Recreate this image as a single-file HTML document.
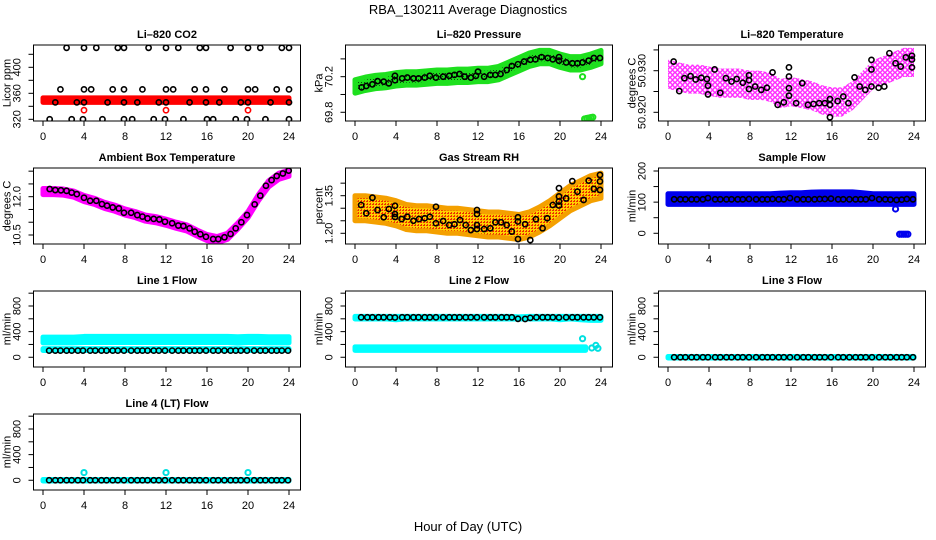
<!DOCTYPE html>
<html><head><meta charset="utf-8"><style>
html,body{margin:0;padding:0;background:#fff;}
svg{display:block;font-family:"Liberation Sans",sans-serif;}
</style></head><body>
<svg id="chart" width="936" height="540" viewBox="0 0 936 540" xmlns="http://www.w3.org/2000/svg">
<defs>
<pattern id="pGreen" width="3" height="3" patternUnits="userSpaceOnUse"><rect width="3" height="3" fill="#1ee01e"/><rect x="1" y="1" width="1" height="1" fill="#0a4a0a"/></pattern>
<pattern id="pPink" width="5" height="5" patternUnits="userSpaceOnUse"><circle cx="2.5" cy="2.5" r="1.8" fill="none" stroke="#ff00ff" stroke-width="1.2"/></pattern>
<pattern id="pOrange" width="3" height="3" patternUnits="userSpaceOnUse"><rect width="3" height="3" fill="#ffd000"/><rect x="0" y="0" width="2" height="1" fill="#ee3000"/><rect x="1" y="2" width="1" height="1" fill="#ee3000"/></pattern>
</defs>
<text x="468" y="14" text-anchor="middle" font-size="13">RBA_130211  Average Diagnostics</text>
<text x="468" y="531" text-anchor="middle" font-size="13">Hour of Day (UTC)</text>
<g id="panels"></g>
</svg>
<script>
// ---------- data ----------
const bandHours = [0,1,2,3,4,5,6,7,8,9,10,11,12,13,14,15,16,17,18,19,20,21,22,23,24];
const flowTimes = [0.6,1.2,1.7,2.3,2.8,3.4,3.9,4.6,5.1,5.7,6.2,6.8,7.3,7.9,8.6,9.2,9.7,10.2,10.8,11.3,11.9,12.6,13.2,13.7,14.3,14.8,15.3,15.9,16.6,17.1,17.7,18.3,18.8,19.3,19.9,20.6,21.2,21.7,22.3,22.8,23.3,23.9];

// CO2
const co2Times = [2.3,4.0,5.2,7.3,7.9,10.3,12.0,13.2,15.3,15.9,18.3,20.0,21.2,23.3,24.0,
 1.7,4.0,4.7,6.8,7.9,9.7,12.0,12.7,14.8,15.9,17.7,20.0,20.7,22.8,24.0,
 1.2,3.3,4.0,6.3,7.9,9.2,11.3,12.0,14.3,15.9,17.2,19.3,20.0,22.2,24.0,
 0.65,2.8,3.9,5.8,7.9,8.7,10.8,11.9,13.7,16.0,16.6,18.8,19.9,21.7,24.0];
const co2Vals = [430,430,430,430,430,430,430,430,430,430,430,430,430,430,430,
 366,366,366,366,366,366,366,366,366,366,366,366,366,366,366,
 346,346,346,346,346,346,346,346,346,346,346,346,346,346,346,
 320,320,320,320,320,320,320,320,320,320,320,320,320,320,320];
const co2BandLo = [346,346,346,346,346,346,346,346,346,346,346,346,346,346,346,346,346,346,346,346,346,346,346,346,346];
const co2BandHi = [353,353,353,353,353,353,353,353,353,353,353,353,353,353,353,353,353,353,353,353,353,353,353,353,353];
const co2RedTimes = [4,12,20];
const co2RedVals = [334,334,334];

// Pressure
const presTimes = [0.65,1.1,1.7,2.2,2.8,3.3,3.9,3.9,4.6,5.1,5.7,6.2,6.8,7.3,7.9,8.6,9.2,9.7,10.2,10.7,11.3,11.8,12.0,12.6,13.2,13.7,14.2,14.8,15.3,15.9,16.5,17.1,17.6,18.2,18.8,19.3,19.9,19.9,20.6,21.2,21.7,22.2,22.8,23.3,23.9];
const presVals = [70.08,70.095,70.114,70.15,70.144,70.125,70.16,70.21,70.18,70.19,70.18,70.18,70.19,70.21,70.19,70.2,70.21,70.22,70.23,70.2,70.19,70.21,70.256,70.2,70.22,70.22,70.23,70.275,70.32,70.34,70.37,70.39,70.395,70.42,70.41,70.395,70.38,70.42,70.36,70.35,70.35,70.36,70.38,70.41,70.41];
const presBandC = [70.09,70.12,70.14,70.15,70.17,70.18,70.18,70.19,70.2,70.2,70.21,70.21,70.22,70.22,70.24,70.29,70.34,70.39,70.42,70.42,70.38,70.35,70.35,70.38,70.42];
const presBandHalf = [0.075,0.075,0.075,0.075,0.075,0.075,0.075,0.075,0.075,0.075,0.075,0.075,0.075,0.075,0.075,0.075,0.075,0.075,0.075,0.075,0.075,0.075,0.075,0.075,0.075];
const presGreenTimes = [22.2,22.4,22.6,22.8,23.0,23.2];
const presGreenVals = [70.2,69.725,69.73,69.735,69.74,69.745];

// Li-820 Temperature
const ltTimes = [0.55,1.1,1.6,2.2,2.7,3.25,3.8,3.9,3.9,4.55,5.1,5.65,6.2,6.7,7.3,7.9,7.9,7.9,8.5,9.1,9.65,10.2,10.7,11.3,11.8,11.8,11.8,11.8,12.5,13.1,13.65,14.2,14.75,15.3,15.8,15.8,15.8,16.55,17.1,17.6,18.2,18.7,19.25,19.85,19.85,19.85,20.55,21.1,21.6,22.2,22.7,23.2,23.8,23.8,23.8];
const ltVals = [50.9322,50.9251,50.9282,50.9287,50.9279,50.9283,50.928,50.9264,50.9243,50.9303,50.9247,50.9282,50.9274,50.928,50.9271,50.9277,50.9289,50.9256,50.9262,50.9254,50.9259,50.9296,50.9218,50.9224,50.9258,50.9308,50.9286,50.924,50.9222,50.927,50.9218,50.922,50.9222,50.9222,50.9232,50.9218,50.9188,50.9227,50.9238,50.9222,50.9284,50.9262,50.9254,50.9326,50.9303,50.9262,50.9259,50.9262,50.9342,50.9318,50.931,50.9332,50.9336,50.9327,50.9308];
const ltBandC = [50.9292,50.9285,50.928,50.928,50.9275,50.927,50.927,50.927,50.9265,50.9265,50.926,50.9245,50.925,50.9245,50.924,50.923,50.9225,50.9225,50.924,50.9265,50.929,50.93,50.931,50.932,50.932];
const ltBandHalf = [0.0035,0.0035,0.0035,0.0035,0.0035,0.0035,0.0035,0.0035,0.0035,0.0035,0.0035,0.0035,0.0035,0.0035,0.0035,0.0035,0.0035,0.0035,0.0035,0.0035,0.0035,0.0035,0.0035,0.0035,0.0035];

// Ambient box temperature
const ambTimes = [0.65,1.2,1.75,2.3,2.8,3.3,4.0,4.6,5.2,5.75,6.25,6.8,7.4,7.9,8.6,9.2,9.7,10.2,10.8,11.35,11.9,12.6,13.2,13.7,14.3,14.8,15.35,15.9,16.6,17.1,17.7,18.3,18.8,19.35,19.9,20.65,21.2,21.75,22.3,22.8,23.4,23.97];
const ambVals = [12.3,12.26,12.25,12.23,12.16,12.1,11.96,11.84,11.84,11.71,11.65,11.58,11.54,11.37,11.37,11.28,11.22,11.15,11.13,11.11,11.02,10.96,10.87,10.85,10.76,10.63,10.53,10.43,10.34,10.34,10.41,10.54,10.76,11.0,11.28,11.7,12.04,12.43,12.65,12.81,12.91,13.02];
const ambBandC = [12.2,12.2,12.18,12.1,11.93,11.82,11.66,11.55,11.4,11.3,11.16,11.1,11.0,10.88,10.78,10.58,10.4,10.32,10.45,10.85,11.3,11.95,12.5,12.8,12.92];
const ambBandHalf = [0.12,0.12,0.12,0.12,0.12,0.12,0.12,0.12,0.12,0.12,0.12,0.12,0.12,0.12,0.12,0.12,0.12,0.12,0.12,0.12,0.12,0.12,0.12,0.12,0.12];

// Gas stream RH
const rhTimes = [0.6,1.1,1.7,2.2,2.8,3.3,3.9,3.9,3.9,4.55,5.1,5.7,6.25,6.8,7.3,7.9,7.9,8.6,9.2,9.7,10.25,10.8,11.3,11.9,11.9,11.9,11.9,12.6,13.2,13.7,14.25,14.8,15.3,15.9,15.9,15.9,16.6,17.1,17.65,18.3,18.75,19.3,19.9,19.9,19.9,19.9,20.6,21.2,21.7,22.3,22.8,23.3,23.9,23.9,23.9];
const rhVals = [1.313,1.28,1.342,1.293,1.264,1.297,1.31,1.277,1.265,1.257,1.266,1.25,1.257,1.26,1.266,1.24,1.306,1.249,1.233,1.236,1.253,1.233,1.213,1.293,1.277,1.233,1.217,1.217,1.22,1.244,1.244,1.233,1.207,1.264,1.247,1.177,1.236,1.173,1.256,1.22,1.26,1.313,1.38,1.347,1.327,1.311,1.339,1.408,1.366,1.333,1.41,1.377,1.433,1.407,1.373];
const rhBandC = [1.30,1.30,1.295,1.29,1.28,1.265,1.26,1.26,1.255,1.25,1.25,1.245,1.24,1.235,1.235,1.23,1.225,1.235,1.255,1.28,1.31,1.34,1.36,1.38,1.39];
const rhBandHalf = [0.05,0.05,0.05,0.05,0.05,0.05,0.05,0.05,0.05,0.05,0.05,0.05,0.05,0.05,0.05,0.05,0.05,0.05,0.05,0.05,0.05,0.05,0.05,0.05,0.05];

// Sample flow
const sfVals = [109,109,109,109,109,109,113,109,109,109,109,109,109,110,109,109,109,110,109,109,113,109,109,109,109,110,110,111,109,109,109,109,109,109,113,109,109,108,107,108,110,109];
const sfBandLo = [93,93,93,93,93,93,93,93,93,93,93,93,93,93,93,93,93,93,93,93,93,93,93,93,93];
const sfBandHi = [127,127,127,127,127,127,127,127,127,127,127,129,130,130,132,133,133,133,133,130,127,127,127,127,127];
const sfBlueTimes = [22.2,22.6,22.8,23.0,23.2,23.4];
const sfBlueVals = [78,-3,-3,-3,-3,-3];

// Line flows
const l1Vals = [104,104,104,104,104,104,104,104,104,104,104,104,104,104,104,104,104,104,104,104,104,104,104,104,104,104,104,104,104,104,104,104,104,104,104,104,104,104,104,104,104,104];
const l1BandLo = [225,225,225,225,230,230,230,230,230,230,230,230,230,230,230,230,230,230,230,220,230,230,225,225,225];
const l1BandHi = [315,315,315,315,325,325,325,325,325,325,325,325,325,325,325,325,325,325,325,320,325,325,320,320,320];
const l1LowLo = [105,105,105,105,105,105,105,105,105,105,105,105,105,105,105,105,105,105,105,105,105,105,105,105,105];
const l1LowHi = [135,135,135,135,135,135,135,135,135,135,135,135,135,135,135,135,135,135,135,135,135,135,135,135,135];
const l2Vals = [623,623,623,623,623,623,620,623,623,623,623,623,623,623,623,623,623,623,623,623,623,623,623,623,623,623,623,600,598,615,623,623,623,623,620,623,623,623,623,623,623,623];
const l2BandLo = [598,598,598,598,585,598,598,598,598,598,598,598,598,598,598,598,598,598,598,598,585,598,585,575,575];
const l2BandHi = [638,638,638,638,638,638,638,638,638,638,638,638,638,638,638,638,630,638,638,638,638,638,638,638,638];
const l2LowHours = [0,2,4,6,8,10,12,14,16,18,20,22,22.5];
const l2LowLo = [108,108,108,108,108,108,108,108,108,108,108,108,108];
const l2LowHi = [162,162,162,162,162,162,162,162,162,162,162,162,162];
const l2CyanTimes = [22.2,23.1,23.5,23.7];
const l2CyanVals = [290,145,185,140];
const l3Vals = [0,0,0,0,0,0,0,0,0,0,0,0,0,0,0,0,0,0,0,0,0,0,0,0,0,0,0,0,0,0,0,0,0,0,0,0,0,0,0,0,0,0];
const l4Vals = [0,0,0,0,0,0,0,0,0,0,0,0,0,0,0,0,0,0,0,0,0,0,0,0,0,0,0,0,0,0,0,0,0,0,0,0,0,0,0,0,0,0];
const zeroLo = [-12,-12,-12,-12,-12,-12,-12,-12,-12,-12,-12,-12,-12,-12,-12,-12,-12,-12,-12,-12,-12,-12,-12,-12,-12];
const zeroHi = [12,12,12,12,12,12,12,12,12,12,12,12,12,12,12,12,12,12,12,12,12,12,12,12,12];
const l4CyanTimes = [4,12,20];
const l4CyanVals = [120,120,120];

const xTicks = [0,4,8,12,16,20,24];

// ---------- layout ----------
const NS = 'http://www.w3.org/2000/svg';
const root = document.getElementById('panels');
const colX0 = [43, 355, 668];
const rowTop = [45, 168, 291, 414];
const PXH = 10.25, BOXH = 76;

function mk(tag, attrs, parent) {
  const e = document.createElementNS(NS, tag);
  for (const k in attrs) e.setAttribute(k, attrs[k]);
  parent.appendChild(e);
  return e;
}
function fmt(v, d) { return v.toFixed(d); }

function panel(cfg) {
  const g = mk('g', {}, root);
  
  
  const x0 = colX0[cfg.col], top = rowTop[cfg.row];
  const L = x0 - 9.5, R = x0 + 257.5, B = top + BOXH;
  const sx = h => x0 + h * PXH;
  const sy = v => top + (cfg.ymax - v) / (cfg.ymax - cfg.ymin) * BOXH;
  const clip = 'clip-' + cfg.name;
  const cp = mk('clipPath', {id: clip}, g);
  mk('rect', {x: L, y: top, width: R - L, height: BOXH}, cp);
  const plot = mk('g', {'clip-path': 'url(#' + clip + ')'}, g);
  
  
  const api = {
    band(hours, lo, hi, fill, stroke, nm) {
      let pts = [];
      for (let i = 0; i < hours.length; i++) pts.push(sx(hours[i]) + ',' + sy(hi[i]));
      for (let i = hours.length - 1; i >= 0; i--) pts.push(sx(hours[i]) + ',' + sy(lo[i]));
      const p = mk('polygon', {points: pts.join(' '), fill: fill, stroke: stroke, 'stroke-width': 5, 'stroke-linejoin': 'round'}, plot);
      
      
    },
    bandC(hours, c, half, fill, stroke, nm) {
      const lo = c.map((v, i) => v - half[i]), hi = c.map((v, i) => v + half[i]);
      api.band(hours, lo, hi, fill, stroke, nm);
    },
    pts(ts, vs, color, nm, sw) {
      for (let i = 0; i < ts.length; i++) {
        const c = mk('circle', {cx: sx(ts[i]), cy: sy(vs[i]), r: 2.6, fill: 'none', stroke: color, 'stroke-width': sw || 1.6}, plot);
        
        
      }
    }
  };
  cfg.draw(api);
  // box
  const box = mk('rect', {x: L, y: top, width: R - L, height: BOXH, fill: 'none', stroke: '#000', 'stroke-width': 1}, g);
  
  
  // title
  const t = mk('text', {x: (L + R) / 2, y: top - 7, 'text-anchor': 'middle', 'font-size': 11, 'font-weight': 'bold'}, g);
  t.textContent = cfg.title;
  
  
  // x axis
  xTicks.forEach(h => {
    mk('line', {x1: sx(h), x2: sx(h), y1: B, y2: B + 5, stroke: '#000'}, g);
    const lt = mk('text', {x: sx(h), y: B + 19, 'text-anchor': 'middle', 'font-size': 11}, g);
    lt.textContent = h;
    
    
  });
  // y axis
  cfg.yticks.forEach(v => {
    mk('line', {x1: L - 5, x2: L, y1: sy(v), y2: sy(v), stroke: '#000'}, g);
  });
  cfg.ylabels.forEach(v => {
    const yy = sy(v);
    const lt = mk('text', {x: L - 13, y: yy, 'text-anchor': 'middle', 'font-size': 11, transform: 'rotate(-90 ' + (L - 13) + ' ' + yy + ')'}, g);
    lt.textContent = fmt(v, cfg.dec);
    
    
  });
  const yc = (top + B) / 2;
  const yt = mk('text', {x: L - 23, y: yc, 'text-anchor': 'middle', 'font-size': 11, transform: 'rotate(-90 ' + (L - 23) + ' ' + yc + ')'}, g);
  yt.textContent = cfg.ytitle;
  
  
}

const flowTicks = [0,200,400,600,800,1000], flowLabels = [0,400,800];

panel({name:'co2-panel', title:'Li\u2013820 CO2', col:0, row:0, ymin:317.4, ymax:434.3, yticks:[320,340,360,380,400,420], ylabels:[320,360,400], dec:0, ytitle:'Licor ppm',
  draw(a){ a.band(bandHours, co2BandLo, co2BandHi, '#ff0000', '#ff0000', 'co2-red-band'); a.pts(co2RedTimes, co2RedVals, '#ff0000', 'co2-red-point'); a.pts(co2Times, co2Vals, '#000', 'co2-point'); }});
panel({name:'pressure-panel', title:'Li\u2013820 Pressure', col:1, row:0, ymin:69.702, ymax:70.556, yticks:[69.8,70.0,70.2,70.4], ylabels:[69.8,70.2], dec:1, ytitle:'kPa',
  draw(a){ a.bandC(bandHours, presBandC, presBandHalf, 'url(#pGreen)', '#1ee01e', 'pressure-green-band'); a.pts(presGreenTimes, presGreenVals, '#1ee01e', 'pressure-green-point', 2); a.pts(presTimes, presVals, '#000', 'pressure-point'); }});
panel({name:'li820-temp-panel', title:'Li\u2013820 Temperature', col:2, row:0, ymin:50.91791, ymax:50.93618, yticks:[50.920,50.925,50.930,50.935], ylabels:[50.920,50.930], dec:3, ytitle:'degrees C',
  draw(a){ a.bandC(bandHours, ltBandC, ltBandHalf, 'url(#pPink)', 'none', 'li820-temp-pink-band'); a.pts(ltTimes, ltVals, '#000', 'li820-temp-point'); }});
panel({name:'ambient-temp-panel', title:'Ambient Box Temperature', col:0, row:1, ymin:10.147, ymax:13.124, yticks:[10.5,11.0,11.5,12.0,12.5,13.0], ylabels:[10.5,12.0], dec:1, ytitle:'degrees C',
  draw(a){ a.bandC(bandHours, ambBandC, ambBandHalf, '#ff00ff', '#ff00ff', 'ambient-temp-band'); a.pts(ambTimes, ambVals, '#000', 'ambient-temp-point'); }});
panel({name:'gas-rh-panel', title:'Gas Stream RH', col:1, row:1, ymin:1.1573, ymax:1.4605, yticks:[1.20,1.25,1.30,1.35,1.40], ylabels:[1.20,1.35], dec:2, ytitle:'percent',
  draw(a){ a.bandC(bandHours, rhBandC, rhBandHalf, 'url(#pOrange)', '#f4a000', 'gas-rh-band'); a.pts(rhTimes, rhVals, '#000', 'gas-rh-point'); }});
panel({name:'sample-flow-panel', title:'Sample Flow', col:2, row:1, ymin:-34.4, ymax:209.6, yticks:[0,50,100,150,200], ylabels:[0,100,200], dec:0, ytitle:'ml/min',
  draw(a){ a.band(bandHours, sfBandLo, sfBandHi, '#0000ee', '#0000ee', 'sample-flow-band'); a.pts(sfBlueTimes, sfBlueVals, '#0000ee', 'sample-flow-blue-point', 2); a.pts(flowTimes, sfVals, '#000', 'sample-flow-point'); }});
panel({name:'line1-flow-panel', title:'Line 1 Flow', col:0, row:2, ymin:-152, ymax:1034, yticks:flowTicks, ylabels:flowLabels, dec:0, ytitle:'ml/min',
  draw(a){ a.band(bandHours, l1BandLo, l1BandHi, '#00ffff', '#00ffff', 'line1-cyan-band'); a.band(bandHours, l1LowLo, l1LowHi, '#00ffff', '#00ffff', 'line1-cyan-low-band'); a.pts(flowTimes, l1Vals, '#000', 'line1-point'); }});
panel({name:'line2-flow-panel', title:'Line 2 Flow', col:1, row:2, ymin:-152, ymax:1034, yticks:flowTicks, ylabels:flowLabels, dec:0, ytitle:'ml/min',
  draw(a){ a.band(bandHours, l2BandLo, l2BandHi, '#00ffff', '#00ffff', 'line2-cyan-band'); a.band(l2LowHours, l2LowLo, l2LowHi, '#00ffff', '#00ffff', 'line2-cyan-low-band'); a.pts(l2CyanTimes, l2CyanVals, '#00e0e0', 'line2-cyan-point', 2); a.pts(flowTimes, l2Vals, '#000', 'line2-point'); }});
panel({name:'line3-flow-panel', title:'Line 3 Flow', col:2, row:2, ymin:-152, ymax:1034, yticks:flowTicks, ylabels:flowLabels, dec:0, ytitle:'ml/min',
  draw(a){ a.band(bandHours, zeroLo, zeroHi, '#00ffff', '#00ffff', 'line3-cyan-band'); a.pts(flowTimes, l3Vals, '#000', 'line3-point'); }});
panel({name:'line4-flow-panel', title:'Line 4 (LT) Flow', col:0, row:3, ymin:-152, ymax:1034, yticks:flowTicks, ylabels:flowLabels, dec:0, ytitle:'ml/min',
  draw(a){ a.band(bandHours, zeroLo, zeroHi, '#00ffff', '#00ffff', 'line4-cyan-band'); a.pts(l4CyanTimes, l4CyanVals, '#00e0e0', 'line4-cyan-point', 2); a.pts(flowTimes, l4Vals, '#000', 'line4-point'); }});
</script>
</body></html>
